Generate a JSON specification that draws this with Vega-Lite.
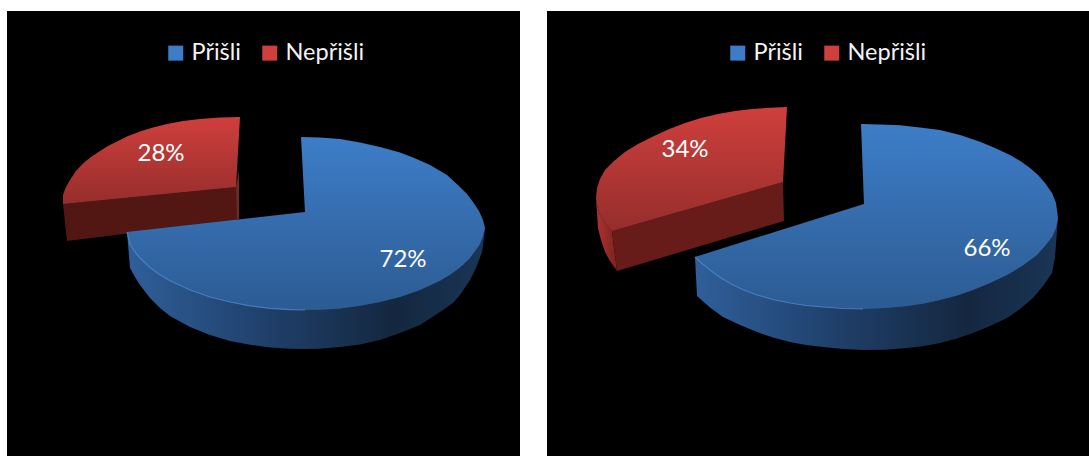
{
"$schema":"https://vega.github.io/schema/vega-lite/v6.json",
"background":"white",
"padding":{"left":7,"top":11,"right":0,"bottom":0},
"spacing":27,
"resolve":{"scale":{"fill":"independent"},"legend":{"fill":"independent"}},
"config":{"view":{"fill":"black","stroke":null},"font":"Lato"},
"datasets":{
"first":[
{"part":"redSide","i":1,"x":236,"y":187},{"part":"redSide","i":2,"x":239,"y":170},{"part":"redSide","i":3,"x":239,"y":219},{"part":"redSide","i":4,"x":236,"y":220},
{"part":"redCut","i":1,"x":63,"y":204},{"part":"redCut","i":2,"x":236,"y":187},{"part":"redCut","i":3,"x":237,"y":220},{"part":"redCut","i":4,"x":67,"y":241},
{"part":"redTop","series":"Nepřišli","i":1,"x":63,"y":204},{"part":"redTop","series":"Nepřišli","i":2,"x":63,"y":195},{"part":"redTop","series":"Nepřišli","i":3,"x":65.5,"y":188},{"part":"redTop","series":"Nepřišli","i":4,"x":70,"y":180},{"part":"redTop","series":"Nepřišli","i":5,"x":76,"y":171},{"part":"redTop","series":"Nepřišli","i":6,"x":83,"y":163.5},{"part":"redTop","series":"Nepřišli","i":7,"x":91,"y":157},{"part":"redTop","series":"Nepřišli","i":8,"x":100,"y":151},{"part":"redTop","series":"Nepřišli","i":9,"x":108,"y":146},{"part":"redTop","series":"Nepřišli","i":10,"x":117,"y":141.5},{"part":"redTop","series":"Nepřišli","i":11,"x":128,"y":136},{"part":"redTop","series":"Nepřišli","i":12,"x":140,"y":131.5},{"part":"redTop","series":"Nepřišli","i":13,"x":153,"y":127.5},{"part":"redTop","series":"Nepřišli","i":14,"x":167,"y":124},{"part":"redTop","series":"Nepřišli","i":15,"x":183,"y":121},{"part":"redTop","series":"Nepřišli","i":16,"x":200,"y":119},{"part":"redTop","series":"Nepřišli","i":17,"x":220,"y":117.5},{"part":"redTop","series":"Nepřišli","i":18,"x":240,"y":117},{"part":"redTop","series":"Nepřišli","i":19,"x":236,"y":187},
{"part":"blueWall","i":1,"x":127,"y":232},{"part":"blueWall","i":2,"x":130,"y":268},{"part":"blueWall","i":3,"x":135,"y":277},{"part":"blueWall","i":4,"x":140,"y":285},{"part":"blueWall","i":5,"x":150,"y":298},{"part":"blueWall","i":6,"x":160,"y":308},{"part":"blueWall","i":7,"x":170,"y":316},{"part":"blueWall","i":8,"x":190,"y":327},{"part":"blueWall","i":9,"x":210,"y":335},{"part":"blueWall","i":10,"x":230,"y":341},{"part":"blueWall","i":11,"x":250,"y":344.8},{"part":"blueWall","i":12,"x":270,"y":347.4},{"part":"blueWall","i":13,"x":290,"y":348.7},{"part":"blueWall","i":14,"x":305,"y":349},{"part":"blueWall","i":15,"x":320,"y":348.7},{"part":"blueWall","i":16,"x":340,"y":347},{"part":"blueWall","i":17,"x":360,"y":344.5},{"part":"blueWall","i":18,"x":380,"y":340},{"part":"blueWall","i":19,"x":400,"y":333},{"part":"blueWall","i":20,"x":420,"y":325},{"part":"blueWall","i":21,"x":440,"y":312},{"part":"blueWall","i":22,"x":453,"y":303},{"part":"blueWall","i":23,"x":460,"y":295},{"part":"blueWall","i":24,"x":470,"y":280},{"part":"blueWall","i":25,"x":476,"y":268},{"part":"blueWall","i":26,"x":482,"y":252},{"part":"blueWall","i":27,"x":484,"y":238},{"part":"blueWall","i":28,"x":485,"y":228},
{"part":"blueTop","series":"Přišli","i":1,"x":127,"y":232},{"part":"blueTop","series":"Přišli","i":2,"x":305,"y":212},{"part":"blueTop","series":"Přišli","i":3,"x":301,"y":137},{"part":"blueTop","series":"Přišli","i":4,"x":320,"y":137.5},{"part":"blueTop","series":"Přišli","i":5,"x":340,"y":139},{"part":"blueTop","series":"Přišli","i":6,"x":360,"y":142.5},{"part":"blueTop","series":"Přišli","i":7,"x":380,"y":147},{"part":"blueTop","series":"Přišli","i":8,"x":400,"y":152.5},{"part":"blueTop","series":"Přišli","i":9,"x":413,"y":157.5},{"part":"blueTop","series":"Přišli","i":10,"x":430,"y":165},{"part":"blueTop","series":"Přišli","i":11,"x":447,"y":175},{"part":"blueTop","series":"Přišli","i":12,"x":460,"y":187},{"part":"blueTop","series":"Přišli","i":13,"x":467,"y":194},{"part":"blueTop","series":"Přišli","i":14,"x":473,"y":202},{"part":"blueTop","series":"Přišli","i":15,"x":479,"y":211},{"part":"blueTop","series":"Přišli","i":16,"x":483,"y":220},{"part":"blueTop","series":"Přišli","i":17,"x":485,"y":228},{"part":"blueTop","series":"Přišli","i":18,"x":483,"y":236},{"part":"blueTop","series":"Přišli","i":19,"x":480,"y":244},{"part":"blueTop","series":"Přišli","i":20,"x":470,"y":258},{"part":"blueTop","series":"Přišli","i":21,"x":460,"y":267.5},{"part":"blueTop","series":"Přišli","i":22,"x":450,"y":274.7},{"part":"blueTop","series":"Přišli","i":23,"x":440,"y":280.7},{"part":"blueTop","series":"Přišli","i":24,"x":420,"y":290},{"part":"blueTop","series":"Přišli","i":25,"x":400,"y":297},{"part":"blueTop","series":"Přišli","i":26,"x":380,"y":302},{"part":"blueTop","series":"Přišli","i":27,"x":360,"y":305.8},{"part":"blueTop","series":"Přišli","i":28,"x":340,"y":308.4},{"part":"blueTop","series":"Přišli","i":29,"x":320,"y":309.7},{"part":"blueTop","series":"Přišli","i":30,"x":305,"y":310},{"part":"blueTop","series":"Přišli","i":31,"x":290,"y":309.7},{"part":"blueTop","series":"Přišli","i":32,"x":270,"y":308.4},{"part":"blueTop","series":"Přišli","i":33,"x":250,"y":305.8},{"part":"blueTop","series":"Přišli","i":34,"x":230,"y":302},{"part":"blueTop","series":"Přišli","i":35,"x":210,"y":297},{"part":"blueTop","series":"Přišli","i":36,"x":190,"y":290},{"part":"blueTop","series":"Přišli","i":37,"x":170,"y":280.7},{"part":"blueTop","series":"Přišli","i":38,"x":160,"y":274.7},{"part":"blueTop","series":"Přišli","i":39,"x":150,"y":267.5},{"part":"blueTop","series":"Přišli","i":40,"x":140,"y":258},{"part":"blueTop","series":"Přišli","i":41,"x":135,"y":252},{"part":"blueTop","series":"Přišli","i":42,"x":130,"y":244},
{"part":"rim","i":1,"x":127,"y":232},{"part":"rim","i":2,"x":130,"y":244},{"part":"rim","i":3,"x":135,"y":252},{"part":"rim","i":4,"x":140,"y":258},{"part":"rim","i":5,"x":150,"y":267.5},{"part":"rim","i":6,"x":160,"y":274.7},{"part":"rim","i":7,"x":170,"y":280.7},{"part":"rim","i":8,"x":190,"y":290},{"part":"rim","i":9,"x":210,"y":297},{"part":"rim","i":10,"x":230,"y":302},{"part":"rim","i":11,"x":250,"y":305.8},{"part":"rim","i":12,"x":270,"y":308.4},{"part":"rim","i":13,"x":290,"y":309.7},{"part":"rim","i":14,"x":305,"y":310}
],
"second":[
{"part":"redSide","i":1,"x":596,"y":198},{"part":"redSide","i":2,"x":597.5,"y":207},{"part":"redSide","i":3,"x":600,"y":215},{"part":"redSide","i":4,"x":605,"y":223},{"part":"redSide","i":5,"x":612,"y":231},{"part":"redSide","i":6,"x":617,"y":271},{"part":"redSide","i":7,"x":610,"y":261},{"part":"redSide","i":8,"x":605,"y":252},{"part":"redSide","i":9,"x":601,"y":240},{"part":"redSide","i":10,"x":598,"y":228},
{"part":"redCut","i":1,"x":612,"y":231},{"part":"redCut","i":2,"x":783,"y":182},{"part":"redCut","i":3,"x":784,"y":221},{"part":"redCut","i":4,"x":617,"y":271},
{"part":"redTop","series":"Nepřišli","i":1,"x":787,"y":107},{"part":"redTop","series":"Nepřišli","i":2,"x":770,"y":107.7},{"part":"redTop","series":"Nepřišli","i":3,"x":752,"y":109},{"part":"redTop","series":"Nepřišli","i":4,"x":735,"y":111},{"part":"redTop","series":"Nepřišli","i":5,"x":718,"y":114},{"part":"redTop","series":"Nepřišli","i":6,"x":701,"y":118},{"part":"redTop","series":"Nepřišli","i":7,"x":685,"y":123},{"part":"redTop","series":"Nepřišli","i":8,"x":668,"y":129.5},{"part":"redTop","series":"Nepřišli","i":9,"x":652,"y":137},{"part":"redTop","series":"Nepřišli","i":10,"x":638,"y":144},{"part":"redTop","series":"Nepřišli","i":11,"x":625,"y":152},{"part":"redTop","series":"Nepřišli","i":12,"x":614,"y":161},{"part":"redTop","series":"Nepřišli","i":13,"x":605,"y":170},{"part":"redTop","series":"Nepřišli","i":14,"x":600,"y":179},{"part":"redTop","series":"Nepřišli","i":15,"x":597,"y":188},{"part":"redTop","series":"Nepřišli","i":16,"x":596,"y":198},{"part":"redTop","series":"Nepřišli","i":17,"x":597.5,"y":207},{"part":"redTop","series":"Nepřišli","i":18,"x":600,"y":215},{"part":"redTop","series":"Nepřišli","i":19,"x":605,"y":223},{"part":"redTop","series":"Nepřišli","i":20,"x":612,"y":231},{"part":"redTop","series":"Nepřišli","i":21,"x":783,"y":182},
{"part":"blueWall","i":1,"x":695,"y":257},{"part":"blueWall","i":2,"x":697,"y":296},{"part":"blueWall","i":3,"x":710,"y":307.5},{"part":"blueWall","i":4,"x":723,"y":317},{"part":"blueWall","i":5,"x":740,"y":325},{"part":"blueWall","i":6,"x":757,"y":332},{"part":"blueWall","i":7,"x":773,"y":337.5},{"part":"blueWall","i":8,"x":790,"y":342},{"part":"blueWall","i":9,"x":806,"y":345},{"part":"blueWall","i":10,"x":823,"y":347},{"part":"blueWall","i":11,"x":843,"y":349},{"part":"blueWall","i":12,"x":863,"y":350},{"part":"blueWall","i":13,"x":885,"y":349.8},{"part":"blueWall","i":14,"x":907,"y":348},{"part":"blueWall","i":15,"x":924,"y":346},{"part":"blueWall","i":16,"x":940,"y":343},{"part":"blueWall","i":17,"x":957,"y":338.5},{"part":"blueWall","i":18,"x":973,"y":333},{"part":"blueWall","i":19,"x":990,"y":326},{"part":"blueWall","i":20,"x":1007,"y":318},{"part":"blueWall","i":21,"x":1020,"y":309},{"part":"blueWall","i":22,"x":1033,"y":298},{"part":"blueWall","i":23,"x":1043,"y":286},{"part":"blueWall","i":24,"x":1052,"y":273},{"part":"blueWall","i":25,"x":1055,"y":257},{"part":"blueWall","i":26,"x":1058,"y":218},
{"part":"blueTop","series":"Přišli","i":1,"x":695,"y":257},{"part":"blueTop","series":"Přišli","i":2,"x":864,"y":204},{"part":"blueTop","series":"Přišli","i":3,"x":861,"y":124},{"part":"blueTop","series":"Přišli","i":4,"x":880,"y":124.5},{"part":"blueTop","series":"Přišli","i":5,"x":900,"y":125.3},{"part":"blueTop","series":"Přišli","i":6,"x":920,"y":127.4},{"part":"blueTop","series":"Přišli","i":7,"x":940,"y":130},{"part":"blueTop","series":"Přišli","i":8,"x":960,"y":135},{"part":"blueTop","series":"Přišli","i":9,"x":980,"y":141.7},{"part":"blueTop","series":"Přišli","i":10,"x":995,"y":148},{"part":"blueTop","series":"Přišli","i":11,"x":1010,"y":155},{"part":"blueTop","series":"Přišli","i":12,"x":1021,"y":161.5},{"part":"blueTop","series":"Přišli","i":13,"x":1030,"y":168},{"part":"blueTop","series":"Přišli","i":14,"x":1038,"y":175},{"part":"blueTop","series":"Přišli","i":15,"x":1045,"y":183},{"part":"blueTop","series":"Přišli","i":16,"x":1052,"y":193},{"part":"blueTop","series":"Přišli","i":17,"x":1056,"y":203},{"part":"blueTop","series":"Přišli","i":18,"x":1058,"y":218},{"part":"blueTop","series":"Přišli","i":19,"x":1056,"y":228},{"part":"blueTop","series":"Přišli","i":20,"x":1052,"y":237},{"part":"blueTop","series":"Přišli","i":21,"x":1045,"y":246},{"part":"blueTop","series":"Přišli","i":22,"x":1037,"y":255},{"part":"blueTop","series":"Přišli","i":23,"x":1022,"y":266},{"part":"blueTop","series":"Přišli","i":24,"x":1007,"y":275},{"part":"blueTop","series":"Přišli","i":25,"x":990,"y":283},{"part":"blueTop","series":"Přišli","i":26,"x":973,"y":290},{"part":"blueTop","series":"Přišli","i":27,"x":957,"y":295.5},{"part":"blueTop","series":"Přišli","i":28,"x":940,"y":300},{"part":"blueTop","series":"Přišli","i":29,"x":924,"y":303.5},{"part":"blueTop","series":"Přišli","i":30,"x":907,"y":306},{"part":"blueTop","series":"Přišli","i":31,"x":885,"y":308},{"part":"blueTop","series":"Přišli","i":32,"x":863,"y":309},{"part":"blueTop","series":"Přišli","i":33,"x":843,"y":308.5},{"part":"blueTop","series":"Přišli","i":34,"x":823,"y":307},{"part":"blueTop","series":"Přišli","i":35,"x":806,"y":305.5},{"part":"blueTop","series":"Přišli","i":36,"x":790,"y":303},{"part":"blueTop","series":"Přišli","i":37,"x":773,"y":299.5},{"part":"blueTop","series":"Přišli","i":38,"x":757,"y":295},{"part":"blueTop","series":"Přišli","i":39,"x":745,"y":290.5},{"part":"blueTop","series":"Přišli","i":40,"x":733,"y":285},{"part":"blueTop","series":"Přišli","i":41,"x":721,"y":278},{"part":"blueTop","series":"Přišli","i":42,"x":710,"y":270},{"part":"blueTop","series":"Přišli","i":43,"x":702,"y":263.5},
{"part":"rim","i":1,"x":695,"y":257},{"part":"rim","i":2,"x":702,"y":263.5},{"part":"rim","i":3,"x":710,"y":270},{"part":"rim","i":4,"x":721,"y":278},{"part":"rim","i":5,"x":733,"y":285},{"part":"rim","i":6,"x":745,"y":290.5},{"part":"rim","i":7,"x":757,"y":295},{"part":"rim","i":8,"x":773,"y":299.5},{"part":"rim","i":9,"x":790,"y":303},{"part":"rim","i":10,"x":806,"y":305.5},{"part":"rim","i":11,"x":823,"y":307},{"part":"rim","i":12,"x":843,"y":308.5},{"part":"rim","i":13,"x":863,"y":309}
]
},
"hconcat":[
{
"width":513,"height":445,
"data":{"name":"first"},
"encoding":{
"x":{"field":"x","type":"quantitative","axis":null,"scale":{"domain":[7,520],"nice":false,"zero":false}},
"y":{"field":"y","type":"quantitative","axis":null,"scale":{"domain":[456,11],"nice":false,"zero":false}},
"order":{"field":"i","type":"quantitative"}
},
"layer":[
{"transform":[{"filter":"datum.part==='redSide'"}],"mark":{"type":"line","fill":"#6e2a25","strokeWidth":0}},
{"transform":[{"filter":"datum.part==='redCut'"}],"mark":{"type":"line","fill":"#521712","strokeWidth":0}},
{"transform":[{"filter":"datum.part==='redTop'"}],"mark":{"type":"line","strokeWidth":0},
"encoding":{"fill":{"field":"series","type":"nominal","sort":null,"scale":{"domain":["Přišli","Nepřišli"],"range":["#3d7dc8","#cf3f3c"]},
"legend":{"title":null,"orient":"none","legendX":157,"legendY":30,"direction":"horizontal","symbolType":"square","symbolSize":225,"symbolStrokeWidth":0,"labelFont":"Lato","labelFontSize":23.5,"labelColor":"#f4f4f4","labelOffset":4,"columnPadding":17}}}},
{"transform":[{"filter":"datum.part==='redTop'"}],"mark":{"type":"line","strokeWidth":0,"fill":{"gradient":"linear","x1":0,"y1":0,"x2":0,"y2":1,"stops":[{"offset":0,"color":"rgba(0,0,0,0)"},{"offset":1,"color":"rgba(0,0,0,0.28)"}]}}},
{"transform":[{"filter":"datum.part==='blueWall'"}],"mark":{"type":"line","strokeWidth":0,"fill":{"gradient":"linear","x1":0,"y1":0,"x2":1,"y2":0,"stops":[{"offset":0,"color":"#2f5f9a"},{"offset":0.4,"color":"#1f3f69"},{"offset":0.75,"color":"#14273f"},{"offset":1,"color":"#1a3556"}]}}},
{"transform":[{"filter":"datum.part==='blueTop'"}],"mark":{"type":"line","strokeWidth":0},
"encoding":{"fill":{"field":"series","type":"nominal","sort":null,"scale":{"domain":["Přišli","Nepřišli"],"range":["#3d7dc8","#cf3f3c"]},
"legend":{"title":null,"orient":"none","legendX":157,"legendY":30,"direction":"horizontal","symbolType":"square","symbolSize":225,"symbolStrokeWidth":0,"labelFont":"Lato","labelFontSize":23.5,"labelColor":"#f4f4f4","labelOffset":4,"columnPadding":17}}}},
{"transform":[{"filter":"datum.part==='blueTop'"}],"mark":{"type":"line","strokeWidth":0,"fill":{"gradient":"linear","x1":0,"y1":0,"x2":0,"y2":1,"stops":[{"offset":0,"color":"rgba(0,0,0,0)"},{"offset":1,"color":"rgba(0,0,0,0.27)"}]}}},
{"transform":[{"filter":"datum.part==='rim'"}],"mark":{"type":"line","stroke":"#4f8fd8","strokeWidth":1.2,"opacity":0.7}},
{"data":{"values":[{"series":"Přišli","share":0.72,"x":403,"y":260},{"series":"Nepřišli","share":0.28,"x":161,"y":154}]},
"mark":{"type":"text","font":"Lato","fontSize":24,"color":"white","align":"center","baseline":"middle"},
"encoding":{"text":{"field":"share","type":"quantitative","format":".0%"}}}
]
},
{
"width":542,"height":445,
"data":{"name":"second"},
"encoding":{
"x":{"field":"x","type":"quantitative","axis":null,"scale":{"domain":[547,1089],"nice":false,"zero":false}},
"y":{"field":"y","type":"quantitative","axis":null,"scale":{"domain":[456,11],"nice":false,"zero":false}},
"order":{"field":"i","type":"quantitative"}
},
"layer":[
{"transform":[{"filter":"datum.part==='redSide'"}],"mark":{"type":"line","strokeWidth":0,"fill":{"gradient":"linear","x1":0,"y1":0,"x2":1,"y2":0,"stops":[{"offset":0,"color":"#b23231"},{"offset":1,"color":"#78231f"}]}}},
{"transform":[{"filter":"datum.part==='redCut'"}],"mark":{"type":"line","fill":"#681c1a","strokeWidth":0}},
{"transform":[{"filter":"datum.part==='redTop'"}],"mark":{"type":"line","strokeWidth":0},
"encoding":{"fill":{"field":"series","type":"nominal","sort":null,"scale":{"domain":["Přišli","Nepřišli"],"range":["#3d7dc8","#cf3f3c"]},
"legend":{"title":null,"orient":"none","legendX":179,"legendY":30,"direction":"horizontal","symbolType":"square","symbolSize":225,"symbolStrokeWidth":0,"labelFont":"Lato","labelFontSize":23.5,"labelColor":"#f4f4f4","labelOffset":4,"columnPadding":17}}}},
{"transform":[{"filter":"datum.part==='redTop'"}],"mark":{"type":"line","strokeWidth":0,"fill":{"gradient":"linear","x1":0,"y1":0,"x2":0,"y2":1,"stops":[{"offset":0,"color":"rgba(0,0,0,0)"},{"offset":1,"color":"rgba(0,0,0,0.28)"}]}}},
{"transform":[{"filter":"datum.part==='blueWall'"}],"mark":{"type":"line","strokeWidth":0,"fill":{"gradient":"linear","x1":0,"y1":0,"x2":1,"y2":0,"stops":[{"offset":0,"color":"#2f5f9a"},{"offset":0.4,"color":"#1f3f69"},{"offset":0.75,"color":"#14273f"},{"offset":1,"color":"#1a3556"}]}}},
{"transform":[{"filter":"datum.part==='blueTop'"}],"mark":{"type":"line","strokeWidth":0},
"encoding":{"fill":{"field":"series","type":"nominal","sort":null,"scale":{"domain":["Přišli","Nepřišli"],"range":["#3d7dc8","#cf3f3c"]},
"legend":{"title":null,"orient":"none","legendX":179,"legendY":30,"direction":"horizontal","symbolType":"square","symbolSize":225,"symbolStrokeWidth":0,"labelFont":"Lato","labelFontSize":23.5,"labelColor":"#f4f4f4","labelOffset":4,"columnPadding":17}}}},
{"transform":[{"filter":"datum.part==='blueTop'"}],"mark":{"type":"line","strokeWidth":0,"fill":{"gradient":"linear","x1":0,"y1":0,"x2":0,"y2":1,"stops":[{"offset":0,"color":"rgba(0,0,0,0)"},{"offset":1,"color":"rgba(0,0,0,0.27)"}]}}},
{"transform":[{"filter":"datum.part==='rim'"}],"mark":{"type":"line","stroke":"#4f8fd8","strokeWidth":1.2,"opacity":0.7}},
{"data":{"values":[{"series":"Přišli","share":0.66,"x":987,"y":249},{"series":"Nepřišli","share":0.34,"x":685,"y":150}]},
"mark":{"type":"text","font":"Lato","fontSize":24,"color":"white","align":"center","baseline":"middle"},
"encoding":{"text":{"field":"share","type":"quantitative","format":".0%"}}}
]
}
]
}
